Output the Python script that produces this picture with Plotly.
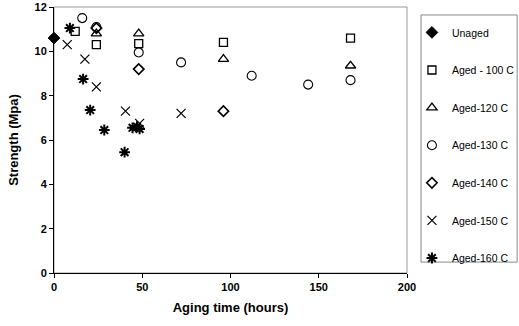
import plotly.graph_objects as go

unaged_x = [0]
unaged_y = [10.6]
a100_x = [12, 24, 48, 96, 168]
a100_y = [10.9, 10.3, 10.35, 10.4, 10.6]
a120_x = [24, 48, 96, 168]
a120_y = [10.8, 10.8, 9.65, 9.35]
a130_x = [16, 24, 48, 72, 112, 144, 168]
a130_y = [11.5, 11.1, 9.95, 9.5, 8.9, 8.5, 8.7]
a140_x = [24, 48, 96]
a140_y = [11.05, 9.2, 7.3]
a150_x = [7.5, 17.5, 24, 40.5, 48.5, 72]
a150_y = [10.3, 9.65, 8.4, 7.3, 6.75, 7.2]
a160_x = [9, 16.5, 20.5, 28.5, 40, 44.5, 47, 48.5]
a160_y = [11.05, 8.75, 7.35, 6.45, 5.45, 6.55, 6.6, 6.5]

series = [
    ("Unaged", unaged_x, unaged_y, "diamond", 1),
    ("Aged - 100 C", a100_x, a100_y, "square-open", 1.3),
    ("Aged-120 C", a120_x, a120_y, "triangle-up-open", 1.3),
    ("Aged-130 C", a130_x, a130_y, "circle-open", 1.1),
    ("Aged-140 C", a140_x, a140_y, "diamond-open", 1.6),
    ("Aged-150 C", a150_x, a150_y, "x-thin-open", 1.2),
    ("Aged-160 C", a160_x, a160_y, "asterisk-open", 2.0),
]
sizes = [9, 8, 9, 9, 8, 9, 9]

fig = go.Figure()
for (name, xs, ys, sym, lw), sz in zip(series, sizes):
    fig.add_trace(go.Scatter(
        x=xs, y=ys, mode="markers", name=name, legendgroup=name,
        marker=dict(symbol=sym, size=sz, color="black",
                    line=dict(color="black", width=lw)),
        cliponaxis=False,
    ))

# plot frame (grey top/right) and legend box
fig.add_shape(type="rect", xref="paper", yref="paper", x0=0, y0=0, x1=1, y1=1,
              line=dict(color="#999999", width=1), layer="below")
fig.add_shape(type="rect", xref="paper", yref="paper", x0=1.0397, y0=0.041,
              x1=1.312, y1=0.97, line=dict(color="#888888", width=1), layer="below")

fig.update_layout(
    width=519, height=326,
    margin=dict(l=54, r=112, t=7, b=53, autoexpand=False),
    paper_bgcolor="white", plot_bgcolor="white",
    font=dict(family="Liberation Sans, Arial, sans-serif", color="black", size=11),
    showlegend=True,
    legend=dict(
        x=1.014, xanchor="left", y=0.959, yanchor="top",
        bgcolor="rgba(0,0,0,0)", borderwidth=0,
        font=dict(size=10.5),
        tracegroupgap=18.6,
        itemwidth=30,
    ),
    xaxis=dict(
        range=[0, 200], tickvals=[0, 50, 100, 150, 200],
        showgrid=False, zeroline=False,
        showline=True, linecolor="black", linewidth=1,
        ticks="outside", ticklen=4, tickcolor="black",
        tickfont=dict(size=11, weight="bold"),
        title=dict(text="<b>Aging time (hours)</b>", font=dict(size=13), standoff=10),
    ),
    yaxis=dict(
        range=[0, 12], tickvals=[0, 2, 4, 6, 8, 10, 12],
        showgrid=False, zeroline=False,
        showline=True, linecolor="black", linewidth=1,
        ticks="outside", ticklen=4, tickcolor="black",
        tickfont=dict(size=11, weight="bold"),
        title=dict(text="<b>Strength (Mpa)</b>", font=dict(size=13), standoff=12),
    ),
)

fig.write_html("out.html")
